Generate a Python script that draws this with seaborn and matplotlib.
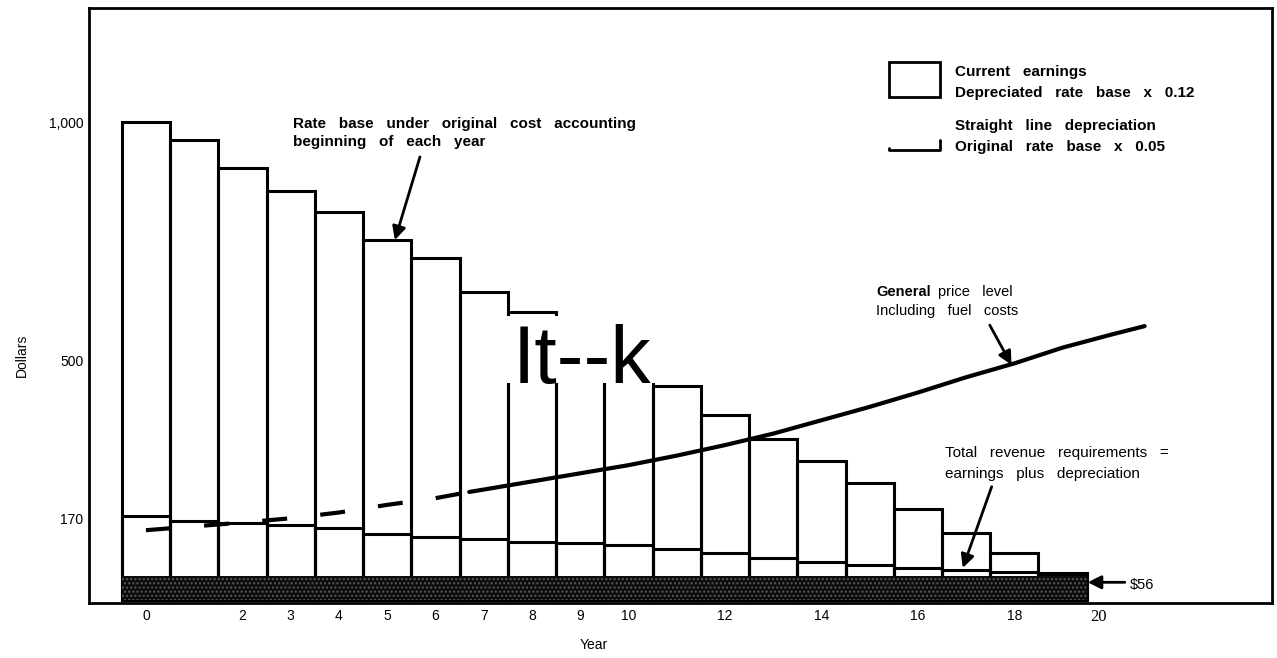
import matplotlib
matplotlib.use("Agg")
import matplotlib.pyplot as plt
import seaborn as sns
import pandas as pd
from matplotlib.patches import Rectangle

# values (dollars)
years = [0, 1, 2, 3, 4, 5, 6, 7, 8, 9, 10, 11, 12, 13, 14, 15, 16, 17, 18, 19]
rate_base = [1000, 962, 904, 855, 812, 753, 715, 644, 603, 550, 500, 448, 387, 337, 291, 245, 190, 140, 99, 54]
revenue = [176, 166, 161, 156, 150, 138, 132, 128, 122, 119, 114, 107, 99, 88, 80, 73, 66, 63, 58, 56]
depreciation = [50, 50, 50, 50, 50, 50, 50, 50, 50, 50, 50, 50, 50, 50, 50, 50, 50, 50, 50, 50]

price_years = [0, 1, 2, 3, 4, 5, 6, 6.7, 7, 8, 9, 10, 11, 12, 13, 14, 15, 16, 17, 18, 19, 20, 20.7]
price_level = [146, 154, 162, 171, 183, 199, 213, 226, 231, 248, 265, 282, 302, 324, 348, 376, 404, 434, 466, 495, 528, 555, 573]

tick_pos = [0, 2, 3, 4, 5, 6, 7, 8, 9, 10, 12, 14, 16, 18, 19.75]
tick_labels = ["0", "2", "3", "4", "5", "6", "7", "8", "9", "10", "12", "14", "16", "18", "20"]
ytick_pos = [170, 500, 1000]
ytick_labels = ["170", "500", "1,000"]

df = pd.DataFrame({"year": years, "rate_base": rate_base,
                   "revenue": revenue, "depreciation": depreciation})

sns.set_style("white")
plt.rcParams['font.family'] = ['Liberation Sans', 'DejaVu Sans']
plt.rcParams['text.color'] = 'black'
plt.rcParams['xtick.color'] = 'black'
plt.rcParams['ytick.color'] = 'black'

fig = plt.figure(figsize=(12.77, 6.58), dpi=100)
ax = fig.add_axes([89 / 1277, 1 - 603 / 658, (1272 - 89) / 1277, (603 - 8) / 658])

# rate base outline bars
sns.barplot(data=df, x="year", y="rate_base", native_scale=True, width=1, fill=False,
            color="black", linewidth=2.2, errorbar=None, ax=ax, zorder=2)
# total revenue requirement outline bars
sns.barplot(data=df, x="year", y="revenue", native_scale=True, width=1, fill=False,
            color="black", linewidth=2.2, errorbar=None, ax=ax, zorder=3)
# depreciation band (dark, speckled like the scan)
sns.barplot(data=df, x="year", y="depreciation", native_scale=True, width=1, fill=True,
            color="#0c0c0c", saturation=1, edgecolor="#5a5a5a", hatch="....", linewidth=0,
            errorbar=None, ax=ax, zorder=4)

# general price level
n_early = 8
sns.lineplot(x=price_years[:n_early], y=price_level[:n_early], color="black", linewidth=3,
             linestyle=(0, (6, 8)), ax=ax, zorder=6)
sns.lineplot(x=price_years[n_early - 1:], y=price_level[n_early - 1:], color="black",
             linewidth=3, ax=ax, zorder=6)

ax.set_xlim(-1.18, 23.34)
ax.set_ylim(-6.3, 1238.5)
ax.set_xticks(tick_pos)
ax.set_xticklabels(tick_labels, fontsize=10)
ax.set_yticks(ytick_pos)
ax.set_yticklabels(ytick_labels, fontsize=10)
ax.tick_params(length=0, pad=4)
ax.get_xticklabels()[-1].set_fontfamily("Liberation Serif")
ax.get_xticklabels()[-1].set_fontsize(12)
ax.set_xlabel("")
ax.set_ylabel("")
for s in ax.spines.values():
    s.set_color("black")
    s.set_linewidth(2)

fig.text(22 / 1277, 1 - 355 / 658, "Dollars", rotation=90, ha="center", va="center", fontsize=10)
fig.text(594 / 1277, 1 - 645 / 658, "Year", ha="center", va="center", fontsize=10)

arrow = dict(arrowstyle="-|>", color="black", lw=2, mutation_scale=20, shrinkA=0, shrinkB=0)

# rate base label
ax.text(3.05, 1010, "Rate   base   under   original   cost   accounting\nbeginning   of   each   year",
        ha="left", va="top", fontsize=11, fontweight="bold", linespacing=1.35)
ax.annotate("", xy=(5.16, 753), xytext=(5.68, 927), arrowprops=arrow)

# OCR artefact over the middle bars
ax.add_patch(Rectangle((7.44, 454), 3.2, 140, facecolor="white", edgecolor="none", zorder=7))
ax.text(9.04, 454, "It--k", ha="center", va="baseline", fontsize=58, zorder=8)

# price level label
ax.text(15.13, 644, "General", ha="left", va="center", fontsize=10.5, fontweight="bold")
ax.text(16.42, 644, "price   level", ha="left", va="center", fontsize=10.5)
ax.text(15.13, 605, "Including   fuel   costs", ha="left", va="center", fontsize=10.5)
ax.annotate("", xy=(17.94, 492), xytext=(17.49, 575), arrowprops=arrow)

# revenue label
ax.text(16.56, 307, "Total   revenue   requirements   =", ha="left", va="center", fontsize=11)
ax.text(16.56, 264, "earnings   plus   depreciation", ha="left", va="center", fontsize=11)
ax.annotate("", xy=(16.93, 67), xytext=(17.53, 237), arrowprops=arrow)

# $56 marker
ax.annotate("", xy=(19.52, 37), xytext=(20.29, 37), arrowprops=arrow)
ax.text(20.39, 31, "$56", ha="left", va="center", fontsize=10.5)

# legend
ax.add_patch(Rectangle((15.40, 1052), 1.06, 73, facecolor="white", edgecolor="black", lw=2))
ax.plot([15.40, 15.40, 16.46, 16.46], [946, 941, 941, 962], color="black", lw=2)
ax.text(16.77, 1105, "Current   earnings", ha="left", va="center", fontsize=11, fontweight="bold")
ax.text(16.77, 1060, "Depreciated   rate   base   x   0.12", ha="left", va="center", fontsize=11,
        fontweight="bold")
ax.text(16.77, 992, "Straight   line   depreciation", ha="left", va="center", fontsize=11,
        fontweight="bold")
ax.text(16.77, 947, "Original   rate   base   x   0.05", ha="left", va="center", fontsize=11,
        fontweight="bold")

fig.savefig("out.png", dpi=100)
